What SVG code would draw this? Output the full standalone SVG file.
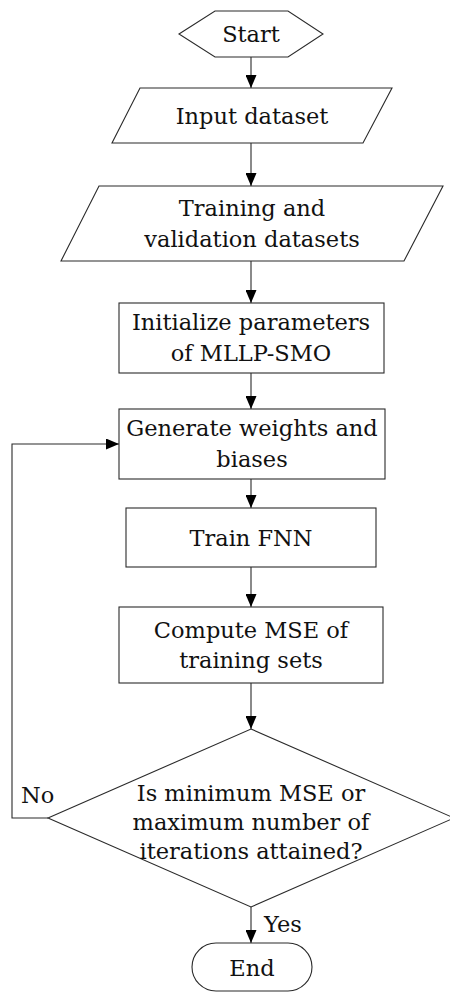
<svg xmlns="http://www.w3.org/2000/svg" width="450" height="992" viewBox="0 0 450 992">
  <style>
    .shape { fill: #ffffff; stroke: #2a2a2a; stroke-width: 1.1; }
    .link { fill: none; stroke: #2a2a2a; stroke-width: 1.1; }
    text { font-family: "DejaVu Serif", "Liberation Serif", serif; font-size: 22.5px; fill: #111111; text-anchor: middle; }
    .lbl { text-anchor: start; }
  </style>
  <defs>
    <marker id="arrow" viewBox="0 0 13 11" refX="13" refY="5.5" markerWidth="13" markerHeight="11" markerUnits="userSpaceOnUse" orient="auto">
      <path d="M0,0 L13,5.5 L0,11 Z" fill="#000000"/>
    </marker>
  </defs>
  <rect width="450" height="992" fill="#ffffff"/>

  <!-- connectors -->
  <g id="connectors">
    <line class="link" x1="251" y1="57" x2="251" y2="88" marker-end="url(#arrow)"/>
    <line class="link" x1="251" y1="143" x2="251" y2="186" marker-end="url(#arrow)"/>
    <line class="link" x1="251" y1="261" x2="251" y2="303" marker-end="url(#arrow)"/>
    <line class="link" x1="251" y1="373" x2="251" y2="409" marker-end="url(#arrow)"/>
    <line class="link" x1="251" y1="479" x2="251" y2="508" marker-end="url(#arrow)"/>
    <line class="link" x1="251" y1="567" x2="251" y2="607" marker-end="url(#arrow)"/>
    <line class="link" x1="251" y1="683" x2="251" y2="729" marker-end="url(#arrow)"/>
    <line class="link" x1="251" y1="907" x2="251" y2="943" marker-end="url(#arrow)"/>
    <polyline class="link" points="48,818 12,818 12,444 119,444" marker-end="url(#arrow)"/>
    <text class="lbl" x="21" y="803">No</text>
    <text class="lbl" x="264" y="932">Yes</text>
  </g>

  <g id="start">
    <polygon class="shape" points="179,34 215,11 288,11 323,34 288,57 215,57"/>
    <text x="251" y="42">Start</text>
  </g>

  <g id="input-dataset">
    <polygon class="shape" points="140,88 392,88 363,143 112,143"/>
    <text x="252" y="124">Input dataset</text>
  </g>

  <g id="training-validation">
    <polygon class="shape" points="99,186 443,186 404,261 61,261"/>
    <text x="252" y="216">Training and</text>
    <text x="252" y="247">validation datasets</text>
  </g>

  <g id="initialize">
    <rect class="shape" x="119" y="303" width="265" height="70"/>
    <text x="251" y="330">Initialize parameters</text>
    <text x="251" y="361">of MLLP-SMO</text>
  </g>

  <g id="generate">
    <rect class="shape" x="119" y="409" width="266" height="70"/>
    <text x="252" y="436">Generate weights and</text>
    <text x="252" y="467">biases</text>
  </g>

  <g id="train">
    <rect class="shape" x="126" y="508" width="250" height="59"/>
    <text x="251" y="546">Train FNN</text>
  </g>

  <g id="compute">
    <rect class="shape" x="119" y="607" width="264" height="76"/>
    <text x="251" y="638">Compute MSE of</text>
    <text x="251" y="668">training sets</text>
  </g>

  <g id="decision">
    <polygon class="shape" points="251,729 454,818 251,907 48,818"/>
    <text x="251" y="801">Is minimum MSE or</text>
    <text x="251" y="830">maximum number of</text>
    <text x="251" y="859">iterations attained?</text>
  </g>

  <g id="end">
    <rect class="shape" x="192" y="943" width="120" height="48" rx="24" ry="24"/>
    <text x="252" y="976">End</text>
  </g>
</svg>
